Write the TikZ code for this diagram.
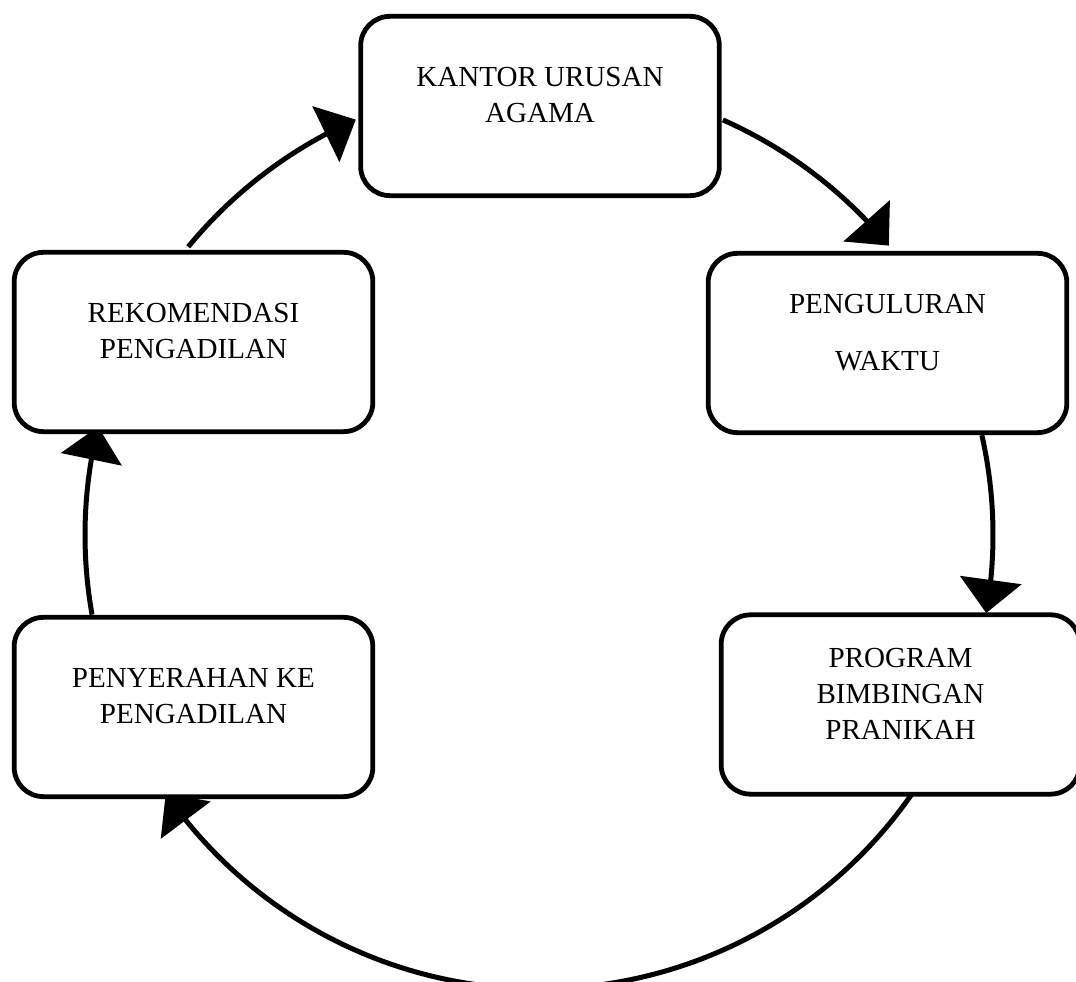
\documentclass[tikz,border=0pt]{standalone}
\usepackage{fontspec}
\setmainfont{Liberation Serif}
\usetikzlibrary{arrows.meta,bending,calc}
\pgfdeclarelayer{bg}
\pgfsetlayers{bg,main}
\newcommand{\boxtxt}[1]{\raisebox{6.5pt}[\height][\depth]{\begin{tabular}{@{}c@{}}#1\end{tabular}}}
\begin{document}
\begin{tikzpicture}[x=0.75pt,y=0.75pt,
  box/.style={draw, line width=3.6pt, rounded corners=22pt, fill=white,
    minimum width=269pt, minimum height=134.5pt, inner sep=0pt,
    font=\fontsize{21.8}{27}\selectfont},
  flow/.style={line width=3.75pt, -{Triangle[length=25pt,width=46pt]}}]
\useasboundingbox (0,0) rectangle (1076,982);
\clip (0,0) rectangle (1076,982);
\coordinate (O) at (539,447);
\node[box] (kua)  at (540,876)   {\boxtxt{KANTOR URUSAN\\AGAMA}};
\node[box] (pen)  at (887.5,639) {\boxtxt{PENGULURAN\\[15.75pt]WAKTU}};
\node[box] (prog) at (900.5,277.5) {\boxtxt{PROGRAM\\BIMBINGAN\\PRANIKAH}};
\node[box] (peny) at (193.5,275) {\boxtxt{PENYERAHAN KE\\PENGADILAN}};
\node[box] (rek)  at (193.5,640) {\boxtxt{REKOMENDASI\\PENGADILAN}};
\coordinate (s1) at ($(O)+(66.1:454)$);
\coordinate (s2) at ($(O)+(12.7:454)$);
\coordinate (s3) at ($(O)+(-34.9:454)$);
\coordinate (s4) at ($(O)+(190.1:454)$);
\coordinate (s5) at ($(O)+(140.6:454)$);
\begin{pgfonlayer}{bg}
\draw[flow] (s1) arc[start angle=66.1, end angle=39.6, radius=340.5pt];
\draw[flow] (s2) arc[start angle=12.7, end angle=-9.9, radius=340.5pt];
\draw[flow] (s3) arc[start angle=-34.9, end angle=-145.3, radius=340.5pt];
\draw[flow] (s4) arc[start angle=190.1, end angle=166.2, radius=340.5pt];
\draw[flow] (s5) arc[start angle=140.6, end angle=113.8, radius=340.5pt];
\end{pgfonlayer}
\end{tikzpicture}
\end{document}
